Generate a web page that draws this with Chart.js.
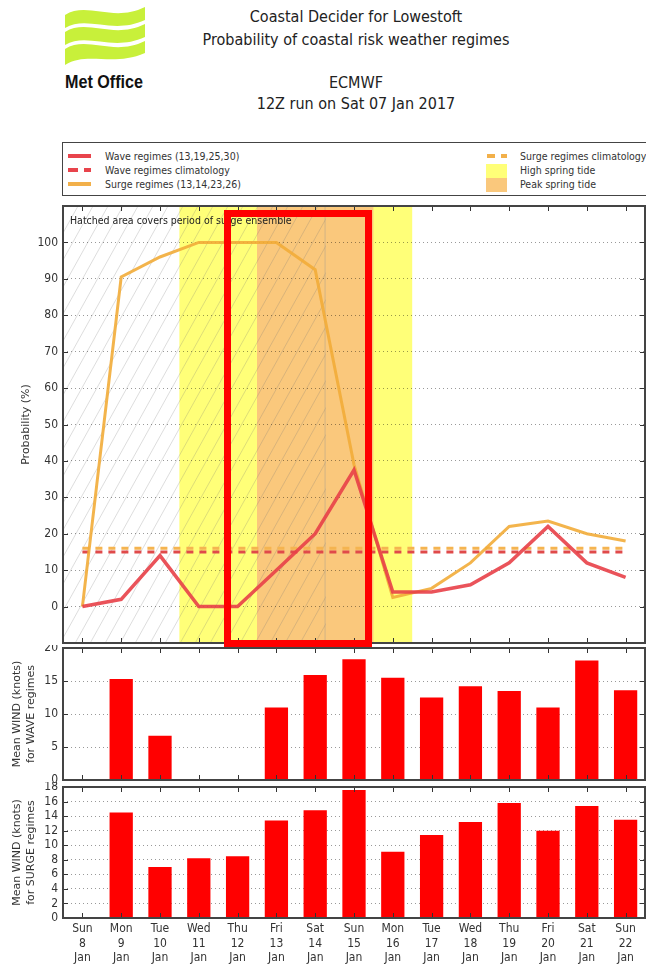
<!DOCTYPE html>
<html>
<head>
<meta charset="utf-8">
<script src="https://cdn.jsdelivr.net/npm/chart.js@4.4.1/dist/chart.umd.min.js"></script>
<style>
body { margin: 0; background: #fff; width: 646px; height: 970px; overflow: hidden; position: relative;
  font-family: 'DejaVu Sans Condensed', 'DejaVu Sans', sans-serif; color: #222; }
.abs { position: absolute; }
.title { left: 0; width: 712px; text-align: center; font-size: 16px; line-height: 20px; color: #222; }
#legend { left: 62px; top: 142px; width: 640px; height: 52px; border: 1.5px solid #444; font-size: 10.5px; color: #333; }
#legend .t { position: absolute; line-height: 14px; white-space: nowrap; }
#legend .s { position: absolute; }
#note { left: 70px; top: 213px; font-size: 10.5px; line-height: 14px; color: #222; white-space: nowrap; }
#focus { border: 7px solid #ff0000; box-sizing: border-box; }
canvas { position: absolute; left: 0; }
</style>
</head>
<body>
<svg class="abs" style="left:0;top:0" width="160" height="100">
  <g fill="#c8f03a" transform="translate(65,7)">
    <path d="M0,8 C22,-6 48,16 80,0 L80,13 C48,28 22,8 0,21 Z"/>
    <path d="M0,25 C22,11 48,33 80,17 L80,30 C48,45 22,25 0,38 Z"/>
    <path d="M0,42 C22,28 48,50 80,34 L80,46 C48,60 22,44 0,58 Z"/>
  </g>
  <text x="65" y="88" textLength="78" lengthAdjust="spacingAndGlyphs" font-family="'Liberation Sans Narrow','Liberation Sans',sans-serif" font-weight="bold" font-size="19" fill="#111">Met Office</text>
</svg>
<div class="abs title" style="top:7px">Coastal Decider for Lowestoft</div>
<div class="abs title" style="top:30px">Probability of coastal risk weather regimes</div>
<div class="abs title" style="top:73px">ECMWF</div>
<div class="abs title" style="top:94px">12Z run on Sat 07 Jan 2017</div>

<div id="legend" class="abs">
  <div class="s" style="left:5px;top:11px;width:23px;height:4px;background:#e8444c"></div>
  <div class="t" style="left:42px;top:6px">Wave regimes (13,19,25,30)</div>
  <div class="s" style="left:5px;top:25px;width:23px;height:4px;background:repeating-linear-gradient(90deg,#e8444c 0 10px,transparent 10px 16px)"></div>
  <div class="t" style="left:42px;top:20px">Wave regimes climatology</div>
  <div class="s" style="left:5px;top:39px;width:23px;height:4px;background:#f2b04a"></div>
  <div class="t" style="left:42px;top:34px">Surge regimes (13,14,23,26)</div>
  <div class="s" style="left:424px;top:11px;width:20px;height:4px;background:repeating-linear-gradient(90deg,#f2b04a 0 8px,transparent 8px 14px)"></div>
  <div class="t" style="left:457px;top:6px">Surge regimes climatology</div>
  <div class="s" style="left:423px;top:21px;width:21px;height:14px;background:#ffff78"></div>
  <div class="t" style="left:457px;top:20px">High spring tide</div>
  <div class="s" style="left:423px;top:35px;width:21px;height:14px;background:#fac87c"></div>
  <div class="t" style="left:457px;top:34px">Peak spring tide</div>
</div>

<canvas id="prob" width="646" height="446" style="top:200px"></canvas>
<canvas id="wave" width="646" height="140" style="top:645px"></canvas>
<canvas id="surge" width="646" height="188" style="top:782px"></canvas>
<div id="note" class="abs">Hatched area covers period of surge ensemble</div>
<div id="focus" class="abs"></div>

<script>
const days = [['Sun','8','Jan'],['Mon','9','Jan'],['Tue','10','Jan'],['Wed','11','Jan'],['Thu','12','Jan'],
  ['Fri','13','Jan'],['Sat','14','Jan'],['Sun','15','Jan'],['Mon','16','Jan'],['Tue','17','Jan'],
  ['Wed','18','Jan'],['Thu','19','Jan'],['Fri','20','Jan'],['Sat','21','Jan'],['Sun','22','Jan']];
const waveProb = [0, 2, 14, 0, 0, 10, 20, 37.5, 4, 4, 6, 12, 22, 12, 8];
const surgeProb = [0, 90.5, 96, 100, 100, 100, 92.5, 39, 2.5, 5, 12, 22, 23.5, 20, 18];
const waveClim = [15, 15, 15, 15, 15, 15, 15, 15, 15, 15, 15, 15, 15, 15, 15];
const surgeClim = [16, 16, 16, 16, 16, 16, 16, 16, 16, 16, 16, 16, 16, 16, 16];
const waveWind = [null, 15.3, 6.7, null, null, 11.0, 15.9, 18.3, 15.5, 12.5, 14.2, 13.5, 11.0, 18.1, 13.6];
const surgeWind = [null, 14.5, 7.0, 8.2, 8.5, 13.4, 14.8, 17.6, 9.1, 11.4, 13.2, 15.8, 12.0, 15.4, 13.5];
const probTicks = [0, 10, 20, 30, 40, 50, 60, 70, 80, 90, 100];
const highTide = [2.5, 8.5];
const peakTide = [4.5, 7.5];
const hatchSpan = [-0.5, 6.27];
const focusSpan = [3.64, 7.46];
const focusRange = [-11, 108.9];

const tickFont = { family: "'DejaVu Sans Condensed', 'DejaVu Sans', sans-serif", size: 12 };
const titleFont = { family: "'DejaVu Sans', sans-serif", size: 11 };

// shaded tide periods and hatch, under the grid
const backdrop = {
  id: 'backdrop',
  beforeDraw(chart, args, opts) {
    if (!opts.tides) return;
    const { ctx, chartArea: a, scales: { x } } = chart;
    ctx.save();
    ctx.fillStyle = '#ffff78';
    ctx.fillRect(x.getPixelForValue(highTide[0]), a.top, x.getPixelForValue(highTide[1]) - x.getPixelForValue(highTide[0]), a.bottom - a.top);
    ctx.fillStyle = '#fac87c';
    ctx.fillRect(x.getPixelForValue(peakTide[0]), a.top, x.getPixelForValue(peakTide[1]) - x.getPixelForValue(peakTide[0]), a.bottom - a.top);
    const h0 = x.getPixelForValue(hatchSpan[0]), h1 = x.getPixelForValue(hatchSpan[1]);
    ctx.beginPath();
    ctx.rect(h0, a.top, h1 - h0, a.bottom - a.top);
    ctx.clip();
    ctx.strokeStyle = 'rgba(120,120,120,0.25)';
    ctx.lineWidth = 1;
    const H = a.bottom - a.top, run = H / 1.8;
    for (let sx = h0 - run; sx < h1; sx += 15) {
      ctx.beginPath();
      ctx.moveTo(sx, a.bottom);
      ctx.lineTo(sx + run, a.top);
      ctx.stroke();
    }
    ctx.strokeStyle = 'rgba(150,150,150,0.5)';
    ctx.beginPath();
    ctx.moveTo(h1 - 0.5, a.top);
    ctx.lineTo(h1 - 0.5, a.bottom);
    ctx.stroke();
    ctx.restore();
  }
};

// matplotlib-like frame with inward ticks
const frame = {
  id: 'frame',
  afterDraw(chart) {
    const { ctx, chartArea: a, scales: { x, y } } = chart;
    ctx.save();
    ctx.strokeStyle = '#333';
    ctx.lineWidth = 1;
    ctx.beginPath();
    days.forEach((d, i) => {
      const px = Math.round(x.getPixelForValue(i)) + 0.5;
      ctx.moveTo(px, a.top); ctx.lineTo(px, a.top + 5);
      ctx.moveTo(px, a.bottom); ctx.lineTo(px, a.bottom - 5);
    });
    y.ticks.forEach(t => {
      const py = Math.round(y.getPixelForValue(t.value)) + 0.5;
      ctx.moveTo(a.left, py); ctx.lineTo(a.left + 5, py);
      ctx.moveTo(a.right, py); ctx.lineTo(a.right - 5, py);
    });
    ctx.stroke();
    ctx.strokeStyle = '#444';
    ctx.lineWidth = 2;
    ctx.strokeRect(a.left, a.top, a.right - a.left, a.bottom - a.top);
    ctx.restore();
  }
};

function yAxis(min, max, step, title, titlePad, keep) {
  return {
    min, max,
    afterFit(s) { s.width = 63; s.paddingTop = 0; s.paddingBottom = 0; },
    afterBuildTicks(s) { if (keep) s.ticks = s.ticks.filter(t => keep.includes(t.value)); },
    ticks: { stepSize: step, font: tickFont, color: '#333', padding: 5, autoSkip: false },
    grid: { color: 'rgba(0,0,0,0.4)', lineWidth: 1, drawTicks: false },
    border: { display: false, dash: [1, 3] },
    title: { display: true, text: title, font: titleFont, color: '#333', padding: { top: titlePad, bottom: 0 } }
  };
}

const probChart = new Chart(document.getElementById('prob'), {
  type: 'line',
  data: {
    labels: days,
    datasets: [
      { data: waveProb, borderColor: 'rgba(232,64,72,0.9)', borderWidth: 3.5 },
      { data: surgeProb, borderColor: 'rgba(242,172,56,0.9)', borderWidth: 3 },
      { data: waveClim, borderColor: '#e04a4a', borderWidth: 3, borderDash: [7, 6] },
      { data: surgeClim, borderColor: '#f5b450', borderWidth: 3, borderDash: [7, 6] }
    ]
  },
  options: {
    responsive: false,
    animation: false,
    layout: { padding: { top: 6, bottom: 3, left: 0, right: 1 } },
    elements: { point: { radius: 0 }, line: { tension: 0 } },
    plugins: { legend: { display: false }, tooltip: { enabled: false }, backdrop: { tides: true } },
    scales: {
      x: { display: false, offset: true },
      y: yAxis(-10, 110, 10, 'Probability (%)', 20, probTicks)
    }
  },
  plugins: [backdrop, frame]
});

function barChart(id, values, min, max, step, title, showX) {
  return new Chart(document.getElementById(id), {
    type: 'bar',
    data: {
      labels: days,
      datasets: [{ data: values, backgroundColor: '#ff0000', barPercentage: 0.6, categoryPercentage: 1 }]
    },
    options: {
      responsive: false,
      animation: false,
      layout: { padding: { top: showX ? 5 : 3, bottom: showX ? 0 : 5, left: 0, right: 1 } },
      plugins: { legend: { display: false }, tooltip: { enabled: false } },
      scales: {
        x: showX ? {
          afterFit(s) { s.height = 52; s.paddingLeft = 0; s.paddingRight = 0; },
          ticks: { font: tickFont, color: '#333', padding: 4, maxRotation: 0, autoSkip: false },
          grid: { display: false, drawTicks: false },
          border: { display: false }
        } : { display: false },
        y: yAxis(min, max, step, title, 11, null)
      }
    },
    plugins: [frame]
  });
}

barChart('wave', waveWind, 0, 20, 5, ['Mean WIND (knots)', 'for WAVE regimes'], false);
barChart('surge', surgeWind, 0, 18, 2, ['Mean WIND (knots)', 'for SURGE regimes'], true);

// highlight box placed through the probability chart's scales
const sx = probChart.scales.x, sy = probChart.scales.y;
const box = document.getElementById('focus');
const l = sx.getPixelForValue(focusSpan[0]), r = sx.getPixelForValue(focusSpan[1]);
const t = sy.getPixelForValue(focusRange[1]), b = sy.getPixelForValue(focusRange[0]);
box.style.left = l + 'px';
box.style.width = (r - l) + 'px';
box.style.top = (200 + t) + 'px';
box.style.height = (b - t) + 'px';
</script>
</body>
</html>
